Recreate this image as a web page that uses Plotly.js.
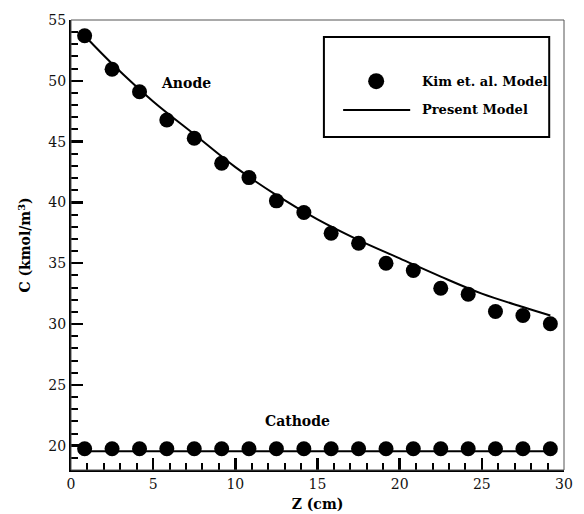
<!DOCTYPE html>
<html>
<head>
<meta charset="utf-8">
<script src="https://cdn.plot.ly/plotly-3.0.1.min.js"></script>
<style>html,body{margin:0;padding:0;background:#fff;}#chart{width:584px;height:514px;}</style>
</head>
<body>
<div id="chart"></div>
<script>
// Kim et al. model points (z in cm)
const zKim = [0.83, 2.5, 4.17, 5.83, 7.5, 9.17, 10.83, 12.5, 14.17, 15.83, 17.5, 19.17, 20.83, 22.5, 24.17, 25.83, 27.5, 29.17];
const anodeKim = [53.7, 50.95, 49.1, 46.78, 45.28, 43.22, 42.04, 40.13, 39.17, 37.47, 36.65, 35.0, 34.4, 32.95, 32.46, 31.03, 30.7, 30.02];
const cathodeKim = [19.75, 19.75, 19.75, 19.75, 19.75, 19.75, 19.75, 19.75, 19.75, 19.75, 19.75, 19.75, 19.75, 19.75, 19.75, 19.75, 19.75, 19.75];
// Present model curves
const zModel = [0.83, 2.5, 5, 7.5, 10, 12.5, 15, 17.5, 20, 22.5, 25, 27.5, 29.17];
const anodeModel = [53.7, 51.4, 48.3, 45.6, 42.9, 40.6, 38.6, 36.9, 35.4, 33.9, 32.5, 31.4, 30.7];
const cathodeModel = [19.55, 19.55, 19.55, 19.55, 19.55, 19.55, 19.55, 19.55, 19.55, 19.55, 19.55, 19.55, 19.55];
const seriesNames = ["Kim et. al. Model", "Present Model"];
const regionLabels = ["Anode", "Cathode"];

const serif = "DejaVu Serif";
const markerStyle = {symbol: "circle", size: 15, color: "#000"};
const lineStyle = {color: "#000", width: 2, shape: "spline"};

const traces = [
  {x: zModel, y: anodeModel, mode: "lines", line: lineStyle, name: seriesNames[1], showlegend: false},
  {x: zModel, y: cathodeModel, mode: "lines", line: lineStyle, name: seriesNames[1], showlegend: false},
  {x: zKim, y: anodeKim, mode: "markers", marker: markerStyle, name: seriesNames[0], showlegend: false},
  {x: zKim, y: cathodeKim, mode: "markers", marker: markerStyle, name: seriesNames[0], showlegend: false}
];

const layout = {
  width: 584, height: 514,
  margin: {l: 71, r: 20, t: 20, b: 44},
  paper_bgcolor: "#fff", plot_bgcolor: "#fff",
  showlegend: false,
  font: {family: serif, color: "#000"},
  xaxis: {
    range: [0, 30], dtick: 5, tick0: 0,
    showgrid: false, zeroline: false, showline: true, linecolor: "#000", linewidth: 2,
    ticks: "inside", ticklen: 12, tickwidth: 2.5, tickcolor: "#000",
    minor: {dtick: 1, ticks: "inside", ticklen: 7, tickwidth: 2, tickcolor: "#000"},
    tickfont: {family: serif, size: 14, color: "#111"},
    title: {text: "<b>Z (cm)</b>", font: {family: serif, size: 14, color: "#000"}, standoff: 8}
  },
  yaxis: {
    range: [18, 55], dtick: 5, tick0: 0,
    showgrid: false, zeroline: false, showline: true, linecolor: "#000", linewidth: 2,
    ticks: "inside", ticklen: 12, tickwidth: 2.5, tickcolor: "#000",
    minor: {dtick: 1, ticks: "inside", ticklen: 7, tickwidth: 2, tickcolor: "#000"},
    tickfont: {family: serif, size: 14, color: "#111"},
    title: {text: "<b>C (kmol/m<sup>3</sup>)</b>", font: {family: serif, size: 14, color: "#000"}, standoff: 14}
  },
  shapes: [
    {type: "rect", xref: "paper", yref: "paper", x0: 0, x1: 1, y0: 0, y1: 1, line: {color: "#555", width: 1}},
    {type: "rect", xref: "paper", yref: "paper", x0: 0.513, x1: 0.970, y0: 0.740, y1: 0.962, line: {color: "#000", width: 2}},
    {type: "circle", xref: "paper", yref: "paper", xsizemode: "pixel", ysizemode: "pixel",
     xanchor: 0.619, yanchor: 0.864, x0: -8, x1: 8, y0: -8, y1: 8, fillcolor: "#000", line: {color: "#000", width: 0}},
    {type: "line", xref: "paper", yref: "paper", x0: 0.552, x1: 0.688, y0: 0.8, y1: 0.8, line: {color: "#000", width: 2}}
  ],
  annotations: [
    {xref: "x", yref: "y", x: 7.0, y: 49.8, text: "<b>" + regionLabels[0] + "</b>", showarrow: false,
     font: {family: serif, size: 14, color: "#000"}},
    {xref: "x", yref: "y", x: 13.8, y: 22.05, text: "<b>" + regionLabels[1] + "</b>", showarrow: false,
     font: {family: serif, size: 14, color: "#000"}},
    {xref: "paper", yref: "paper", x: 0.708, y: 0.864, xanchor: "left", yanchor: "middle", text: "<b>" + seriesNames[0] + "</b>",
     showarrow: false, font: {family: serif, size: 13, color: "#000"}},
    {xref: "paper", yref: "paper", x: 0.708, y: 0.8, xanchor: "left", yanchor: "middle", text: "<b>" + seriesNames[1] + "</b>",
     showarrow: false, font: {family: serif, size: 13, color: "#000"}}
  ]
};

Plotly.newPlot("chart", traces, layout, {staticPlot: true, displayModeBar: false});
</script>
</body>
</html>
